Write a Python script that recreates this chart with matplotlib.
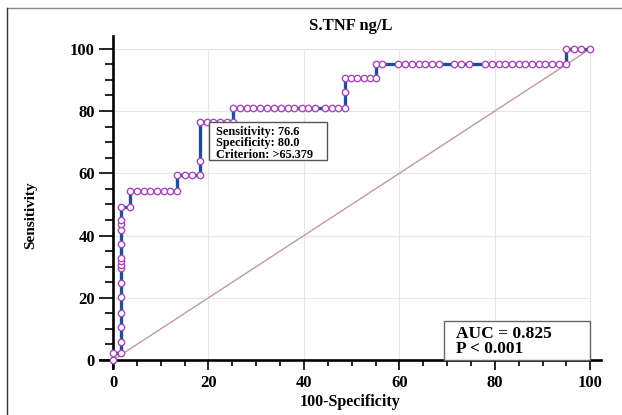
import matplotlib
matplotlib.use("Agg")
import matplotlib.pyplot as plt
from matplotlib.ticker import MultipleLocator
from matplotlib.lines import Line2D
from matplotlib.patches import Rectangle

# ROC points (100-Specificity, Sensitivity)
roc_x = [0, 0,
         1.6, 1.6, 1.6, 1.6, 1.6, 1.6, 1.6, 1.6, 1.6, 1.6, 1.6, 1.6, 1.6, 1.6, 1.6,
         3.5,
         3.5, 5.0, 6.4, 7.8, 9.2, 10.6, 12.0, 13.5,
         13.5, 15.0, 16.6, 18.2,
         18.2,
         18.2, 19.6, 21.0, 22.4, 23.8, 25.2,
         25.2, 26.6, 28.0, 29.4, 30.8, 32.3, 33.8, 35.2, 36.6, 38.0, 39.6, 40.9, 42.3,
         44.4, 45.8, 47.2, 48.5,
         48.5,
         48.5, 49.8, 51.1, 52.5, 53.9, 55.1,
         55.1, 56.3, 59.8, 61.2, 62.6, 64.0, 65.4, 66.8, 68.2, 71.4, 72.8, 74.5,
         78.0, 79.4, 80.8, 82.2, 83.6, 85.0, 86.4, 87.8, 89.2, 90.6, 92.0, 93.4, 94.8,
         94.8, 96.5, 98.1, 100]
roc_y = [0, 2.1,
         2.1, 5.9, 10.7, 15.2, 20.1, 24.7, 29.5, 30.6, 31.7, 32.7, 37.2, 41.9, 43.7, 45.1, 49.2,
         49.2,
         54.4, 54.4, 54.4, 54.4, 54.4, 54.4, 54.4, 54.4,
         59.3, 59.3, 59.3, 59.3,
         63.9,
         76.6, 76.6, 76.6, 76.6, 76.6, 76.6,
         81.1, 81.1, 81.1, 81.1, 81.1, 81.1, 81.1, 81.1, 81.1, 81.1, 81.1, 81.1, 81.1,
         81.1, 81.1, 81.1, 81.1,
         86.1,
         90.7, 90.7, 90.7, 90.7, 90.7, 90.7,
         95.2, 95.2, 95.2, 95.2, 95.2, 95.2, 95.2, 95.2, 95.2, 95.2, 95.2, 95.2,
         95.2, 95.2, 95.2, 95.2, 95.2, 95.2, 95.2, 95.2, 95.2, 95.2, 95.2, 95.2, 95.2,
         100, 100, 100, 100]

ref_line = [0, 100]
major_ticks = [0, 20, 40, 60, 80, 100]
grid_ticks = [20, 40, 60, 80, 100]

criterion_lines = ["Sensitivity: 76.6", "Specificity: 80.0", "Criterion: >65.379"]
auc_lines = ["AUC = 0.825", "P < 0.001"]

plt.rcParams['font.family'] = ['Liberation Serif', 'DejaVu Serif']
plt.rcParams['font.weight'] = 'bold'

fig = plt.figure(figsize=(6.22, 4.15), dpi=100)
ax = fig.add_axes([0.161, 0.113, 0.805, 0.801])
ax.set_xlim(-2.7, 102.2)
ax.set_ylim(-2.6, 104.2)

# grid only inside the 0..100 box
ax.vlines(grid_ticks, 0, 100, color='#e6e6e6', lw=0.8, zorder=0)
ax.hlines(grid_ticks, 0, 100, color='#e6e6e6', lw=0.8, zorder=0)

# diagonal reference
ax.plot(ref_line, ref_line, color='#c29a98', lw=1.0, zorder=1)

# ROC curve
ax.plot(roc_x, roc_y, color='#1f4f8f', lw=2.4, zorder=2)
ax.plot(roc_x, roc_y, linestyle='none', marker='o', markersize=4.6,
        markerfacecolor='white', markeredgecolor='#a848bc', markeredgewidth=1.0, zorder=3)

for s in ['top', 'right']:
    ax.spines[s].set_visible(False)
ax.spines['left'].set_position(('data', 0))
ax.spines['bottom'].set_position(('data', 0))
ax.spines['left'].set_linewidth(1.9)
ax.spines['bottom'].set_linewidth(1.9)

ax.set_xticks(major_ticks)
ax.set_yticks(major_ticks)
ax.xaxis.set_minor_locator(MultipleLocator(5))
ax.yaxis.set_minor_locator(MultipleLocator(5))
ax.tick_params(axis='y', which='major', direction='out', length=10, width=1.2, pad=3, labelsize=12)
ax.tick_params(axis='y', which='minor', direction='out', length=6, width=1.2)
ax.tick_params(axis='x', which='major', direction='out', length=7, width=1.2, pad=4, labelsize=12)
ax.tick_params(axis='x', which='minor', direction='out', length=4, width=1.2)

ax.set_title("S.TNF ng/L", fontsize=12, fontweight='bold', pad=4)
ax.set_xlabel("100-Specificity", fontsize=11.5, fontweight='bold', labelpad=2)
ax.set_ylabel("Sensitivity", fontsize=11, fontweight='bold')
ax.yaxis.set_label_coords(-0.125, 0.46)

# criterion box
ax.add_patch(Rectangle((20.2, 64.4), 24.6, 12.0, facecolor='white', edgecolor='#555555',
                       lw=1.0, zorder=4))
ax.text(21.5, 75.3, "\n".join(criterion_lines), fontsize=8.8, fontweight='bold',
        va='top', ha='left', linespacing=0.95, zorder=5)

# AUC box
ax.add_patch(Rectangle((69.4, 0), 30.6, 12.4, facecolor='white', edgecolor='#666666',
                       lw=1.0, zorder=4))
ax.text(71.8, 11.0, "\n".join(auc_lines), fontsize=12.5, fontweight='bold',
        va='top', ha='left', linespacing=0.95, zorder=5)

# outer frame lines of the original picture
fig.add_artist(Line2D([0.012, 1.0], [0.981, 0.981], transform=fig.transFigure, color='#888888', lw=1.0))
fig.add_artist(Line2D([0.012, 0.012], [0.0, 0.981], transform=fig.transFigure, color='#333333', lw=1.0))

fig.savefig("out.png", dpi=100)
